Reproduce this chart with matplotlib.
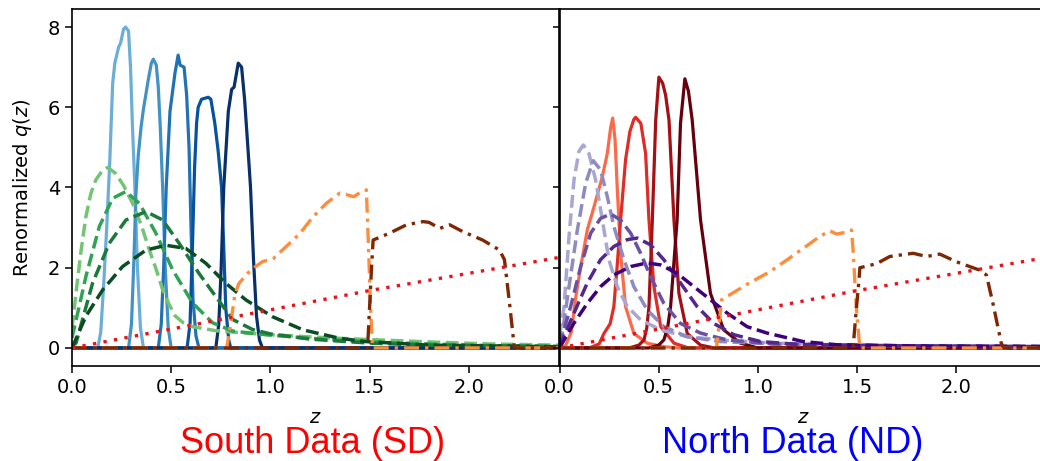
import numpy as np
import matplotlib
matplotlib.use("Agg")
import matplotlib.pyplot as plt

# ---- South Data (left panel) ----
# solid photo-z bins (Blues)
z_b1 = [0.0, 0.13, 0.145, 0.16, 0.175, 0.19, 0.205, 0.216, 0.235, 0.245, 0.26, 0.27, 0.285, 0.295, 0.305, 0.317, 0.33, 0.345, 0.36, 2.46]
q_b1 = [0.0, 0.0, 0.4, 1.6, 3.0, 4.6, 6.6, 7.1, 7.5, 7.6, 7.95, 8.0, 7.9, 7.0, 5.5, 4.0, 2.0, 0.5, 0.0, 0.0]
z_b2 = [0.0, 0.285, 0.30, 0.312, 0.322, 0.334, 0.348, 0.36, 0.385, 0.40, 0.41, 0.425, 0.435, 0.445, 0.457, 0.47, 0.485, 0.50, 2.46]
q_b2 = [0.0, 0.0, 0.6, 2.2, 3.8, 4.8, 5.5, 5.95, 6.7, 7.1, 7.2, 7.05, 6.5, 5.5, 4.0, 2.0, 0.5, 0.0, 0.0]
z_b3 = [0.0, 0.435, 0.45, 0.462, 0.475, 0.494, 0.519, 0.535, 0.545, 0.565, 0.578, 0.59, 0.60, 0.61, 0.625, 0.64, 2.46]
q_b3 = [0.0, 0.0, 0.6, 2.0, 4.0, 5.9, 6.85, 7.3, 7.05, 7.0, 6.3, 5.0, 3.0, 1.2, 0.3, 0.0, 0.0]
z_b4 = [0.0, 0.58, 0.595, 0.607, 0.618, 0.628, 0.636, 0.653, 0.687, 0.70, 0.72, 0.737, 0.754, 0.765, 0.775, 0.79, 0.80, 2.46]
q_b4 = [0.0, 0.0, 0.6, 2.5, 4.5, 5.6, 6.0, 6.2, 6.25, 6.2, 5.6, 4.9, 4.0, 2.5, 1.0, 0.2, 0.0, 0.0]
z_b5 = [0.0, 0.725, 0.74, 0.752, 0.765, 0.788, 0.805, 0.817, 0.838, 0.855, 0.87, 0.888, 0.90, 0.915, 0.93, 0.945, 0.96, 2.46]
q_b5 = [0.0, 0.0, 0.6, 2.0, 4.0, 5.9, 6.45, 6.5, 7.1, 7.0, 6.2, 4.9, 4.0, 2.2, 0.8, 0.2, 0.0, 0.0]

# dashed bins (Greens)
z_g1 = [0.0, 0.012, 0.02, 0.045, 0.07, 0.095, 0.12, 0.15, 0.18, 0.22, 0.26, 0.306, 0.35, 0.39, 0.425, 0.457, 0.49, 0.52, 0.56, 0.608, 0.725, 0.88, 1.0, 1.3, 1.5, 1.8, 2.1, 2.46]
q_g1 = [0.5, 1.0, 1.36, 2.4, 3.27, 3.85, 4.19, 4.4, 4.5, 4.35, 4.05, 3.6, 3.05, 2.44, 1.95, 1.45, 1.08, 0.8, 0.63, 0.53, 0.43, 0.37, 0.33, 0.25, 0.21, 0.15, 0.1, 0.07]
z_g2 = [0.0, 0.03, 0.07, 0.138, 0.205, 0.272, 0.34, 0.423, 0.507, 0.608, 0.708, 0.81, 0.977, 1.2, 1.5, 1.8, 2.1, 2.46]
q_g2 = [0.25, 0.9, 1.78, 3.03, 3.73, 3.9, 3.6, 2.86, 1.95, 1.12, 0.63, 0.42, 0.33, 0.24, 0.15, 0.1, 0.06, 0.04]
z_g3 = [0.0, 0.02, 0.104, 0.188, 0.272, 0.373, 0.457, 0.54, 0.64, 0.725, 0.81, 0.91, 1.0, 1.2, 1.5, 1.8, 2.46]
q_g3 = [0.05, 0.12, 1.62, 2.61, 3.19, 3.4, 3.19, 2.61, 1.86, 1.28, 0.71, 0.46, 0.35, 0.22, 0.12, 0.07, 0.03]
z_g4 = [0.0, 0.07, 0.155, 0.255, 0.373, 0.474, 0.574, 0.675, 0.776, 0.876, 1.01, 1.165, 1.35, 1.48, 1.8, 2.46]
q_g4 = [0.0, 0.79, 1.45, 2.03, 2.44, 2.56, 2.48, 2.11, 1.61, 1.2, 0.78, 0.45, 0.24, 0.16, 0.07, 0.03]

# dash-dot bins (left)
z_os = [0.0, 0.78, 0.80, 0.82, 0.84, 0.90, 0.96, 1.015, 1.08, 1.15, 1.215, 1.283, 1.35, 1.385, 1.42, 1.46, 1.484, 1.495, 1.505, 1.515, 2.46]
q_os = [0.0, 0.0, 0.6, 1.3, 1.6, 1.94, 2.15, 2.23, 2.53, 2.86, 3.27, 3.61, 3.86, 3.82, 3.77, 3.9, 3.94, 2.5, 1.0, 0.0, 0.0]
z_bs = [0.0, 1.49, 1.50, 1.51, 1.518, 1.60, 1.686, 1.77, 1.80, 1.854, 1.904, 1.97, 2.07, 2.155, 2.18, 2.206, 2.23, 2.46]
q_bs = [0.0, 0.0, 1.0, 2.0, 2.69, 2.86, 3.07, 3.15, 3.13, 2.98, 3.07, 2.9, 2.69, 2.44, 2.2, 1.1, 0.0, 0.0]

# ---- North Data (right panel) ----
z_r1 = [0.0, 0.03, 0.06, 0.08, 0.107, 0.14, 0.174, 0.216, 0.241, 0.258, 0.268, 0.28, 0.291, 0.308, 0.333, 0.375, 0.442, 0.526, 0.6, 2.46]
q_r1 = [0.0, 0.05, 0.4, 1.2, 2.03, 2.94, 3.52, 4.27, 4.85, 5.5, 5.73, 5.2, 4.0, 2.36, 1.03, 0.36, 0.12, 0.03, 0.0, 0.0]
z_r2 = [0.0, 0.15, 0.2, 0.224, 0.255, 0.274, 0.29, 0.308, 0.333, 0.355, 0.375, 0.384, 0.41, 0.434, 0.451, 0.476, 0.51, 0.577, 0.65, 2.46]
q_r2 = [0.0, 0.0, 0.1, 0.36, 0.6, 1.03, 2.0, 3.19, 4.69, 5.4, 5.7, 5.75, 5.6, 4.85, 3.19, 1.53, 0.53, 0.12, 0.0, 0.0]
z_r3 = [0.0, 0.35, 0.40, 0.426, 0.44, 0.451, 0.468, 0.485, 0.501, 0.52, 0.535, 0.552, 0.577, 0.602, 0.644, 0.711, 0.78, 2.46]
q_r3 = [0.0, 0.0, 0.07, 0.2, 0.5, 1.03, 3.19, 5.68, 6.75, 6.6, 6.3, 5.68, 3.19, 1.36, 0.36, 0.07, 0.0, 0.0]
z_r4 = [0.0, 0.45, 0.5, 0.526, 0.545, 0.56, 0.593, 0.61, 0.632, 0.65, 0.669, 0.711, 0.761, 0.828, 0.912, 1.0, 2.46]
q_r4 = [0.0, 0.0, 0.07, 0.2, 0.5, 1.03, 3.19, 5.6, 6.71, 6.4, 5.68, 3.19, 1.36, 0.45, 0.12, 0.0, 0.0]

z_p1 = [0.0, 0.023, 0.048, 0.073, 0.098, 0.12, 0.148, 0.182, 0.216, 0.249, 0.291, 0.342, 0.409, 0.51, 0.644, 0.812, 1.08, 1.4, 1.8, 2.46]
q_p1 = [0.3, 1.03, 2.78, 4.19, 4.9, 5.06, 4.85, 4.19, 3.19, 2.2, 1.53, 1.03, 0.7, 0.45, 0.28, 0.2, 0.12, 0.08, 0.05, 0.03]
z_p2 = [0.0, 0.014, 0.048, 0.09, 0.132, 0.17, 0.207, 0.241, 0.274, 0.325, 0.375, 0.442, 0.526, 0.644, 0.81, 1.08, 1.4, 1.8, 2.46]
q_p2 = [0.1, 0.36, 1.53, 2.94, 4.11, 4.67, 4.44, 3.77, 3.03, 2.2, 1.53, 0.95, 0.53, 0.28, 0.16, 0.1, 0.07, 0.05, 0.03]
z_p3 = [0.0, 0.056, 0.107, 0.157, 0.207, 0.258, 0.308, 0.359, 0.409, 0.459, 0.526, 0.61, 0.711, 0.845, 1.08, 1.4, 1.8, 2.46]
q_p3 = [0.05, 1.03, 2.03, 2.86, 3.23, 3.34, 3.19, 2.86, 2.36, 1.78, 1.11, 0.61, 0.37, 0.2, 0.1, 0.07, 0.05, 0.03]
z_p4 = [0.0, 0.073, 0.14, 0.207, 0.274, 0.342, 0.392, 0.459, 0.526, 0.61, 0.694, 0.778, 0.879, 1.013, 1.2, 1.5, 2.0, 2.46]
q_p4 = [0.02, 0.87, 1.62, 2.2, 2.53, 2.7, 2.74, 2.57, 2.2, 1.62, 1.03, 0.61, 0.33, 0.16, 0.09, 0.06, 0.04, 0.03]
z_p5 = [0.0, 0.073, 0.14, 0.207, 0.274, 0.359, 0.442, 0.51, 0.593, 0.677, 0.761, 0.845, 0.946, 1.047, 1.228, 1.396, 1.8, 2.46]
q_p5 = [0.0, 0.62, 1.11, 1.53, 1.82, 2.03, 2.12, 2.07, 1.86, 1.53, 1.2, 0.87, 0.53, 0.37, 0.16, 0.08, 0.05, 0.04]

z_on = [0.0, 0.78, 0.792, 0.805, 0.817, 0.95, 1.06, 1.145, 1.228, 1.312, 1.363, 1.396, 1.44, 1.472, 1.48, 1.497, 1.514, 2.46]
q_on = [0.0, 0.0, 0.03, 0.6, 1.2, 1.6, 1.9, 2.19, 2.48, 2.78, 2.92, 2.84, 2.88, 2.94, 2.44, 0.95, 0.0, 0.0]
z_bn = [0.0, 1.48, 1.495, 1.51, 1.514, 1.598, 1.665, 1.783, 1.85, 1.917, 2.0, 2.118, 2.152, 2.185, 2.227, 2.24, 2.46]
q_bn = [0.0, 0.0, 0.9, 1.7, 2.0, 2.1, 2.28, 2.36, 2.28, 2.34, 2.15, 1.94, 1.82, 1.11, 0.12, 0.0, 0.0]

# dotted reference line (both panels)
z_ref = [0.0, 0.5, 1.0, 1.5, 2.0, 2.46]
q_ref = [0.0, 0.47, 0.95, 1.43, 1.86, 2.26]

blues = ["#6baed6", "#4292c6", "#2171b5", "#08519c", "#08306b"]
greens = ["#74c476", "#31a354", "#1b7a3a", "#0b4d23"]
reds = ["#fb6a4a", "#de2d26", "#a50f15", "#67000d"]
purples = ["#a9a7d1", "#8e8bc0", "#6a51a3", "#54278f", "#3f007d"]

dashdot = (0, (4.5, 1.8, 1, 1.8))
dotted = (0, (1, 2.2))

fig = plt.figure(figsize=(10.4, 4.61), dpi=100)
W, H = 1040.0, 461.0
ax1 = fig.add_axes([72 / W, 95 / H, 487 / W, 357 / H])
ax2 = fig.add_axes([559.5 / W, 95 / H, 487 / W, 357 / H], sharey=ax1)

# left
for zz, qq, c in zip([z_b1, z_b2, z_b3, z_b4, z_b5], [q_b1, q_b2, q_b3, q_b4, q_b5], blues):
    ax1.plot(zz, qq, color=c, lw=2.3)
for zz, qq, c in zip([z_g1, z_g2, z_g3, z_g4], [q_g1, q_g2, q_g3, q_g4], greens):
    ax1.plot(zz, qq, color=c, lw=2.5, ls="--")
ax1.plot(z_os, q_os, color="#fd8d3c", lw=2.4, ls=dashdot)
ax1.plot(z_bs, q_bs, color="#7f2704", lw=2.4, ls=dashdot)
ax1.plot(z_ref, q_ref, color="#e8141c", lw=2.4, ls=dotted)

# right
for zz, qq, c in zip([z_r1, z_r2, z_r3, z_r4], [q_r1, q_r2, q_r3, q_r4], reds):
    ax2.plot(zz, qq, color=c, lw=2.3)
for zz, qq, c in zip([z_p1, z_p2, z_p3, z_p4, z_p5], [q_p1, q_p2, q_p3, q_p4, q_p5], purples):
    ax2.plot(zz, qq, color=c, lw=2.5, ls="--")
ax2.plot(z_on, q_on, color="#fd8d3c", lw=2.4, ls=dashdot)
ax2.plot(z_bn, q_bn, color="#7f2704", lw=2.4, ls=dashdot)
ax2.plot(z_ref, q_ref, color="#e8141c", lw=2.4, ls=dotted)

for ax in (ax1, ax2):
    ax.set_xlim(0, 2.455)
    ax.set_xticks([0.0, 0.5, 1.0, 1.5, 2.0])
    ax.set_xticklabels(["0.0", "0.5", "1.0", "1.5", "2.0"])
    ax.tick_params(labelsize=14, length=5, width=1.1)
    ax.set_xlabel("$z$", fontsize=14, labelpad=8)
    for s in ax.spines.values():
        s.set_linewidth(1.2)

ax1.set_ylim(-0.45, 8.45)
ax1.set_yticks([0, 2, 4, 6, 8])
ax1.set_ylabel("Renormalized $q(z)$", fontsize=14, labelpad=10)
ax2.tick_params(labelleft=False)

fig.text(313 / W, 1 - 443 / H, "South Data (SD)", color="red", fontsize=26,
         family="Liberation Sans", ha="center", va="center")
fig.text(793 / W, 1 - 443 / H, "North Data (ND)", color="blue", fontsize=26,
         family="Liberation Sans", ha="center", va="center")

fig.savefig("out.png", dpi=100)
